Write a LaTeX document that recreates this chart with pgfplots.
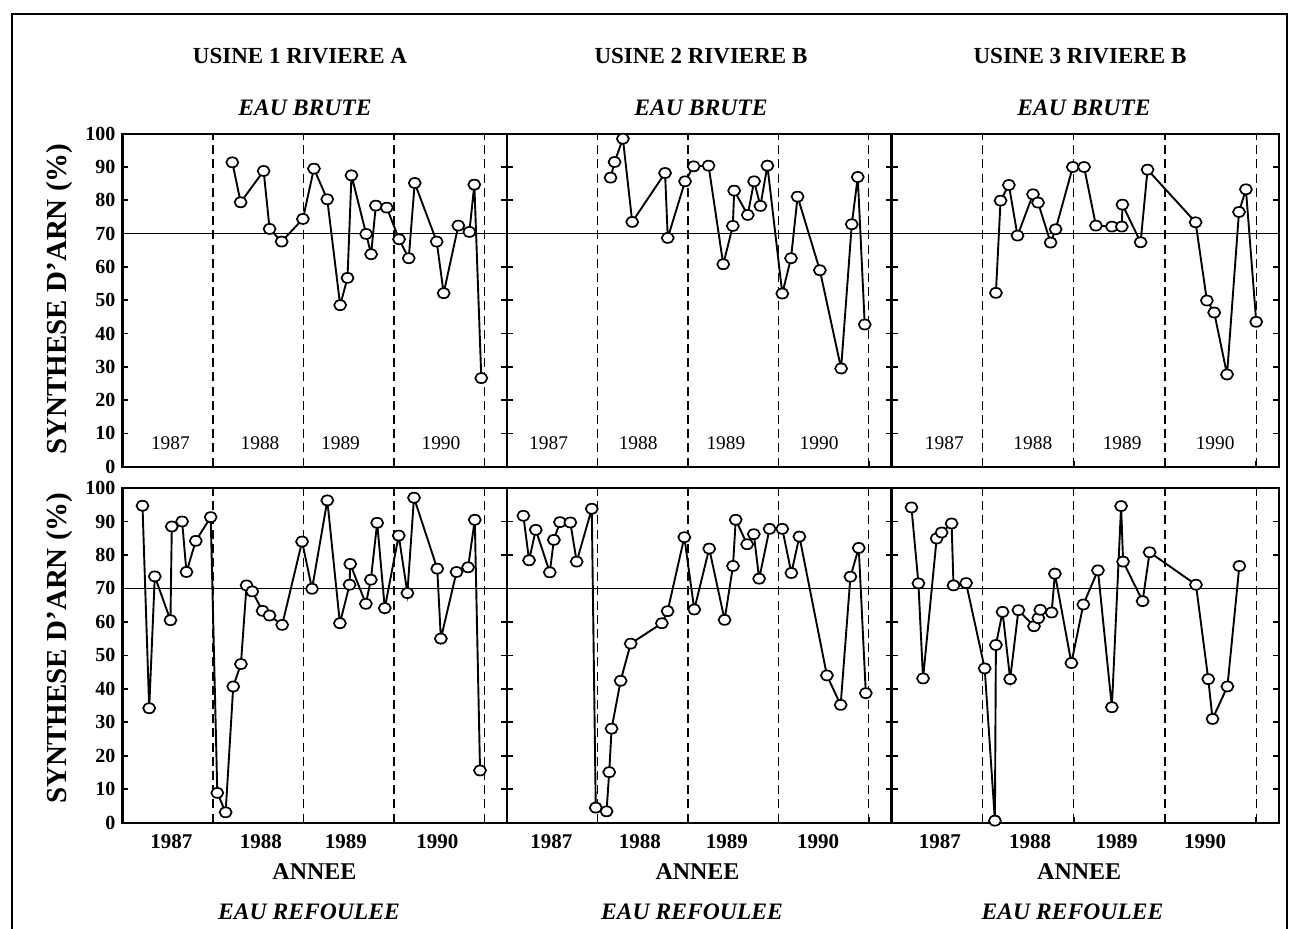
\documentclass[border=0pt]{standalone}
\usepackage{pgfplots}
\pgfplotsset{compat=1.18}
\usepackage{fontspec}
\setmainfont{Liberation Serif}

\pgfplotsset{
  panel/.style={
    scale only axis, clip=false,
    xmin=1987, xmax=1991.25, ymin=0, ymax=100,
    ytick={0,10,...,100}, ytick pos=both,
    xtick={1988,1989,1990,1991}, xticklabels={}, xtick pos=bottom,
    xmajorgrids, grid style={black, line width=0.6pt, dash pattern=on 4.5pt off 2.6pt},
    tick align=inside, major tick length=3pt,
    tick style={black, line width=0.8pt},
    axis line style={line width=1.1pt},
    ticklabel style={font=\fontsize{10}{12}\selectfont\bfseries},
    /pgf/number format/assume math mode=true,
    anchor=north west,
  },
  noylab/.style={yticklabels={}},
  ser/.style={black, line width=0.95pt, mark=*, mark size=2.5pt,
    mark options={fill=white, draw=black, line width=0.85pt, xscale=1.2}},
  ref/.style={black, line width=0.55pt, no marks},
}
\tikzset{
  inyr/.style={font=\fontsize{9.7}{11}\selectfont},
  botyr/.style={font=\fontsize{10.5}{12}\selectfont\bfseries, anchor=base, yshift=-13pt},
}

\begin{document}
\begin{tikzpicture}
\path[use as bounding box] (0pt,0pt) rectangle (645pt,-464.5pt);
\draw[line width=1pt] (6pt,-464.5pt) -- (6pt,-7pt) -- (643.5pt,-7pt) -- (643.5pt,-464.5pt);

% ---------- TOP ROW ----------
\begin{axis}[panel, at={(61.25pt,-66.85pt)}, width=192.25pt, height=166.5pt]
\addplot[ref] coordinates {(1987,70) (1991.25,70)};
\addplot[ser] coordinates {
(1988.214,91.4) (1988.306,79.4) (1988.560,88.8) (1988.626,71.4) (1988.759,67.6)
(1988.994,74.4) (1989.116,89.5) (1989.263,80.3) (1989.406,48.5) (1989.487,56.7)
(1989.531,87.5) (1989.693,69.9) (1989.748,63.8) (1989.800,78.4) (1989.921,77.8)
(1990.057,68.3) (1990.164,62.6) (1990.230,85.2) (1990.473,67.6) (1990.550,52.1)
(1990.712,72.4) (1990.834,70.5) (1990.889,84.7) (1990.966,26.6)};
\node[inyr] at (axis cs:1987.53,7) {1987};
\node[inyr] at (axis cs:1988.52,7) {1988};
\node[inyr] at (axis cs:1989.41,7) {1989};
\node[inyr] at (axis cs:1990.52,7) {1990};
\end{axis}

\begin{axis}[panel, noylab, at={(253.5pt,-66.85pt)}, width=192.25pt, height=166.5pt]
\addplot[ref] coordinates {(1987,70) (1991.25,70)};
\addplot[ser] coordinates {
(1988.145,86.8) (1988.189,91.5) (1988.281,98.5) (1988.384,73.5) (1988.747,88.2)
(1988.777,68.7) (1988.968,85.7) (1989.063,90.2) (1989.228,90.4) (1989.390,60.8)
(1989.496,72.3) (1989.511,82.9) (1989.661,75.6) (1989.731,85.7) (1989.801,78.3)
(1989.878,90.4) (1990.043,52.0) (1990.139,62.6) (1990.212,81.1) (1990.458,59.0)
(1990.693,29.5) (1990.811,72.8) (1990.877,87.0) (1990.954,42.7)};
\node[inyr] at (axis cs:1987.46,7) {1987};
\node[inyr] at (axis cs:1988.45,7) {1988};
\node[inyr] at (axis cs:1989.42,7) {1989};
\node[inyr] at (axis cs:1990.45,7) {1990};
\end{axis}

\begin{axis}[panel, noylab, at={(445.75pt,-66.85pt)}, width=193.75pt, height=166.5pt]
\addplot[ref] coordinates {(1987,70) (1991.25,70)};
\addplot[ser] coordinates {
(1988.145,52.2) (1988.196,79.9) (1988.287,84.6) (1988.382,69.4) (1988.552,81.8)
(1988.607,79.3) (1988.745,67.3) (1988.800,71.3) (1988.988,90.0) (1989.112,90.0)
(1989.242,72.4) (1989.417,72.1) (1989.526,72.1) (1989.533,78.7) (1989.732,67.4)
(1989.808,89.2) (1990.335,73.4) (1990.459,49.9) (1990.539,46.3) (1990.680,27.7)
(1990.811,76.5) (1990.887,83.3) (1991.000,43.5)};
\node[inyr] at (axis cs:1987.58,7) {1987};
\node[inyr] at (axis cs:1988.55,7) {1988};
\node[inyr] at (axis cs:1989.53,7) {1989};
\node[inyr] at (axis cs:1990.55,7) {1990};
\end{axis}

% ---------- BOTTOM ROW ----------
\begin{axis}[panel, at={(61.25pt,-244pt)}, width=192.25pt, height=167.35pt]
\addplot[ref] coordinates {(1987,70) (1991.25,70)};
\addplot[ser] coordinates {
(1987.221,94.7) (1987.295,34.2) (1987.357,73.6) (1987.530,60.5) (1987.545,88.5)
(1987.659,90.0) (1987.707,74.9) (1987.810,84.2) (1987.975,91.3) (1988.048,8.9)
(1988.140,3.1) (1988.224,40.7) (1988.309,47.4) (1988.371,70.9) (1988.434,69.1)
(1988.548,63.3) (1988.625,61.9) (1988.765,59.1) (1988.985,84.0) (1989.095,69.9)
(1989.264,96.3) (1989.403,59.6) (1989.510,71.1) (1989.517,77.3) (1989.690,65.4)
(1989.745,72.6) (1989.815,89.6) (1989.899,64.1) (1990.053,85.8) (1990.149,68.6)
(1990.222,97.1) (1990.479,75.9) (1990.519,55.0) (1990.692,74.9) (1990.820,76.3)
(1990.894,90.5) (1990.952,15.6)};
\node[botyr] at (axis cs:1987.54,0) {1987};
\node[botyr] at (axis cs:1988.53,0) {1988};
\node[botyr] at (axis cs:1989.47,0) {1989};
\node[botyr] at (axis cs:1990.48,0) {1990};
\end{axis}

\begin{axis}[panel, noylab, at={(253.5pt,-244pt)}, width=192.25pt, height=167.35pt]
\addplot[ref] coordinates {(1987,70) (1991.25,70)};
\addplot[ser] coordinates {
(1987.181,91.7) (1987.244,78.4) (1987.318,87.5) (1987.473,74.8) (1987.518,84.5)
(1987.585,89.8) (1987.700,89.7) (1987.770,78.0) (1987.937,93.8) (1987.981,4.5)
(1988.100,3.4) (1988.130,15.1) (1988.156,28.1) (1988.256,42.4) (1988.367,53.5)
(1988.712,59.6) (1988.775,63.2) (1988.960,85.3) (1989.070,63.7) (1989.235,81.9)
(1989.405,60.6) (1989.498,76.7) (1989.528,90.5) (1989.654,83.2) (1989.728,86.2)
(1989.787,72.9) (1989.902,87.8) (1990.043,87.8) (1990.143,74.6) (1990.232,85.5)
(1990.536,44.0) (1990.688,35.2) (1990.796,73.5) (1990.888,82.1) (1990.966,38.7)};
\node[botyr] at (axis cs:1987.49,0) {1987};
\node[botyr] at (axis cs:1988.47,0) {1988};
\node[botyr] at (axis cs:1989.43,0) {1989};
\node[botyr] at (axis cs:1990.44,0) {1990};
\end{axis}

\begin{axis}[panel, noylab, at={(445.75pt,-244pt)}, width=193.75pt, height=167.35pt]
\addplot[ref] coordinates {(1987,70) (1991.25,70)};
\addplot[ser] coordinates {
(1987.219,94.2) (1987.295,71.5) (1987.346,43.1) (1987.495,84.9) (1987.550,86.7)
(1987.659,89.4) (1987.680,70.9) (1987.818,71.6) (1988.022,46.1) (1988.134,0.6)
(1988.145,53.1) (1988.218,63.0) (1988.301,42.9) (1988.392,63.5) (1988.563,58.7)
(1988.610,61.1) (1988.632,63.6) (1988.756,62.8) (1988.792,74.4) (1988.973,47.7)
(1989.104,65.2) (1989.264,75.4) (1989.417,34.5) (1989.518,94.6) (1989.540,78.0)
(1989.754,66.2) (1989.831,80.8) (1990.339,71.1) (1990.474,42.9) (1990.521,31.0)
(1990.684,40.7) (1990.815,76.7)};
\node[botyr] at (axis cs:1987.53,0) {1987};
\node[botyr] at (axis cs:1988.52,0) {1988};
\node[botyr] at (axis cs:1989.47,0) {1989};
\node[botyr] at (axis cs:1990.44,0) {1990};
\end{axis}

% ---------- TEXTS ----------
\begin{scope}[font=\fontsize{11.5}{13}\selectfont\bfseries]
\node at (150pt,-28pt) {USINE 1 RIVIERE A};
\node at (350.5pt,-28pt) {USINE 2 RIVIERE B};
\node at (540pt,-28pt) {USINE 3 RIVIERE B};
\end{scope}
\begin{scope}[font=\fontsize{11.8}{13}\selectfont\bfseries\itshape]
\node at (152.5pt,-54pt) {EAU BRUTE};
\node at (350.5pt,-54pt) {EAU BRUTE};
\node at (542pt,-54pt) {EAU BRUTE};
\node at (154.5pt,-456pt) {EAU REFOULEE};
\node at (346pt,-456pt) {EAU REFOULEE};
\node at (536.25pt,-456pt) {EAU REFOULEE};
\end{scope}
\begin{scope}[font=\fontsize{12}{14}\selectfont\bfseries]
\node at (157.25pt,-435.8pt) {ANNEE};
\node at (348.75pt,-435.8pt) {ANNEE};
\node at (539.6pt,-435.8pt) {ANNEE};
\end{scope}
\begin{scope}[font=\fontsize{14.5}{16}\selectfont\bfseries]
\node[rotate=90] at (30pt,-149.5pt) {SYNTHESE D'ARN (\%)};
\node[rotate=90] at (30pt,-324pt) {SYNTHESE D'ARN (\%)};
\end{scope}
\end{tikzpicture}
\end{document}
